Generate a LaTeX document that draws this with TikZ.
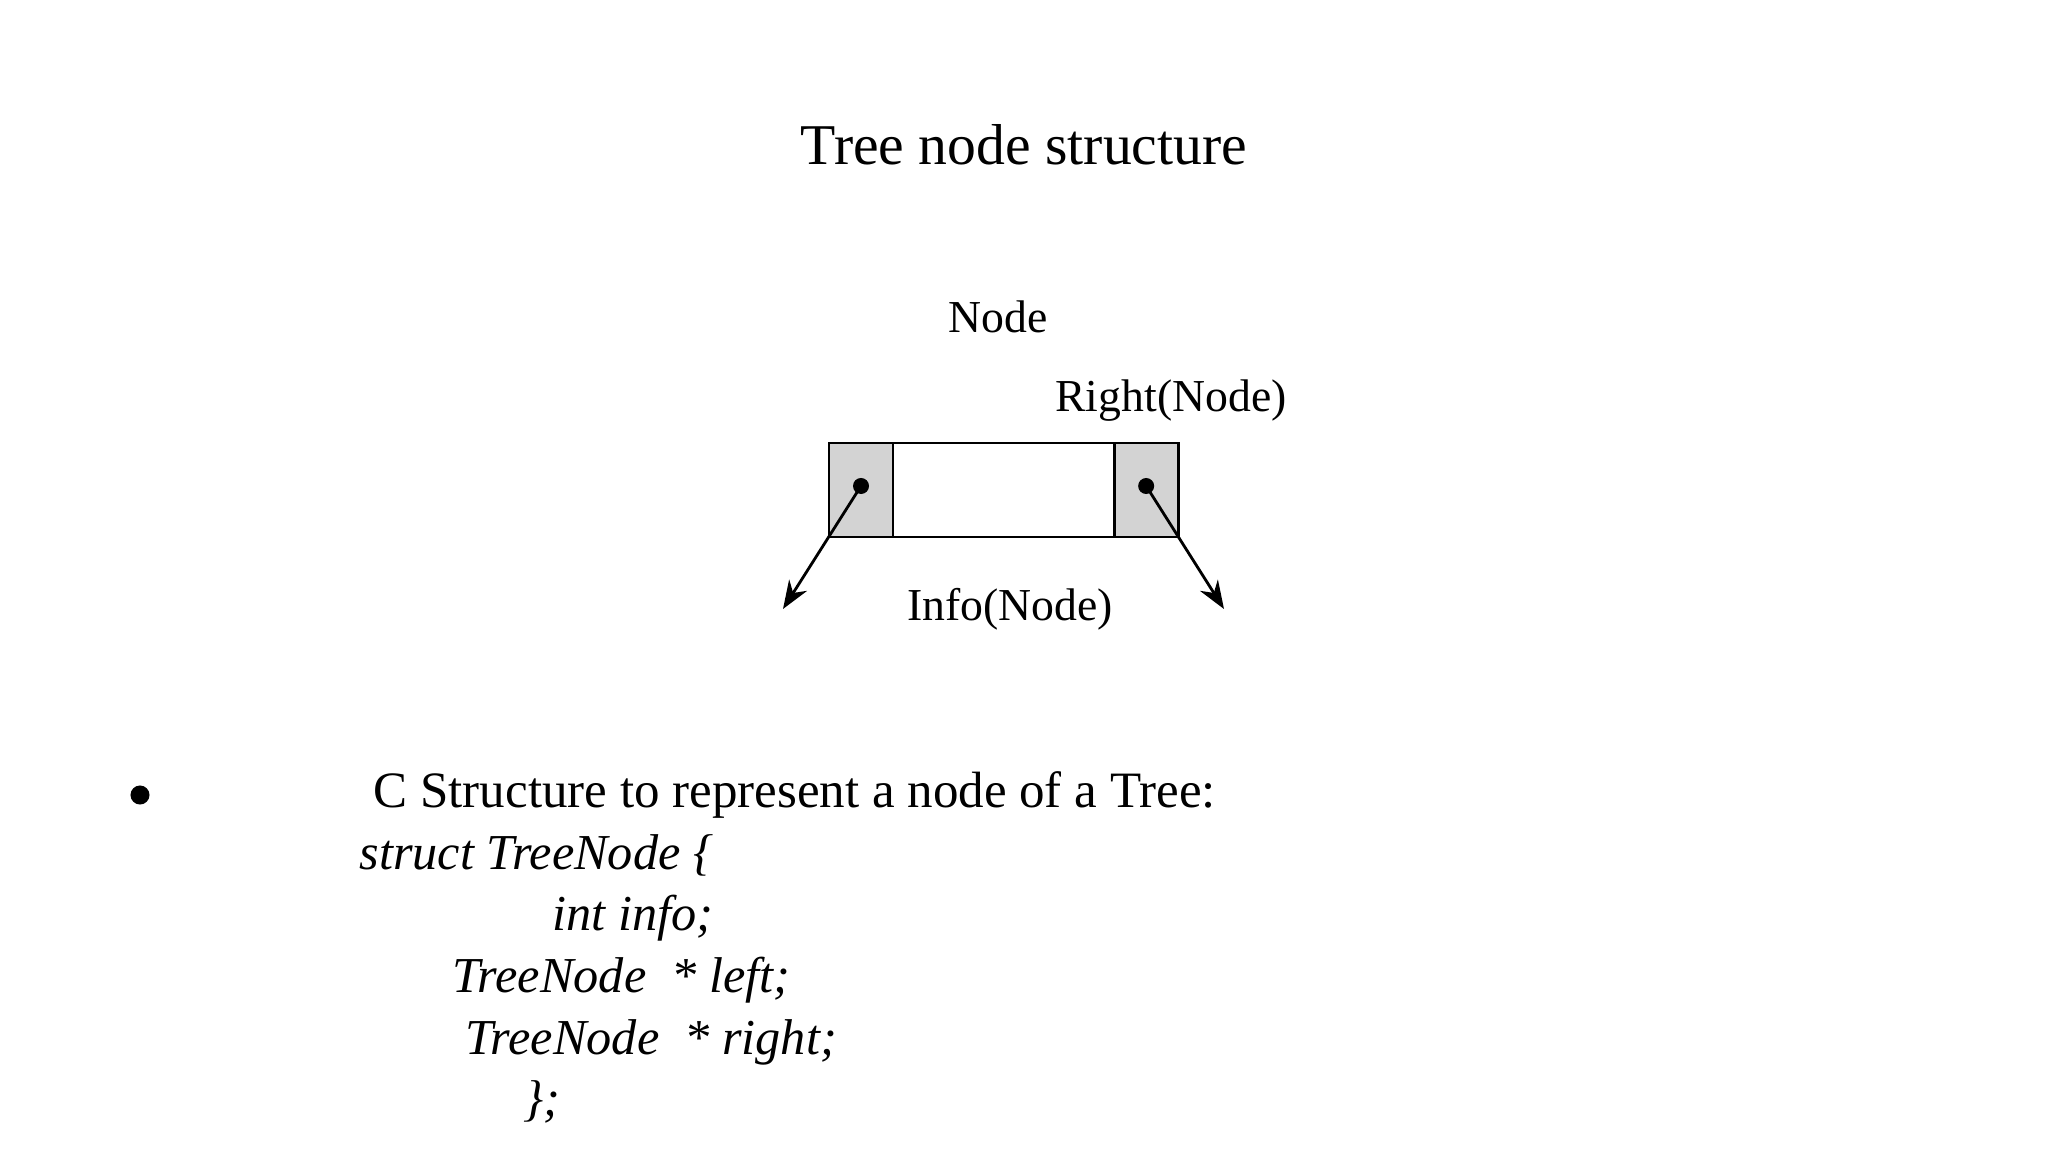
\documentclass[tikz,border=0pt]{standalone}
\usepackage{fontspec}
\setmainfont{Liberation Serif}
\usetikzlibrary{arrows.meta}
\definecolor{cellgray}{RGB}{211,211,211}
\tikzset{
  cell/.style={draw, line width=0.8pt, minimum height=0.94cm, inner sep=0pt, outer sep=0pt},
  ptrcell/.style={cell, fill=cellgray, minimum width=0.64cm},
  lbl/.style={font=\fontsize{13}{15}\selectfont, inner sep=0pt, anchor=base},
  codeline/.style={font=\fontsize{14.3}{17}\selectfont\itshape, inner sep=0pt, anchor=base west},
}
\begin{document}
\begin{tikzpicture}[x=0.01cm, y=-0.01cm, >={Stealth[length=8pt,width=6pt]}]
  \useasboundingbox (0,0) rectangle (2048,1152);
  \node[font=\fontsize{16.4}{19}\selectfont, inner sep=0pt, anchor=base] (title) at (1024,165) {Tree node structure};

  % the node: left pointer, info, right pointer
  \node[ptrcell] (lptr) at (861,490) {};
  \node[cell, minimum width=2.21cm, anchor=west] (info) at (lptr.east) {};
  \node[ptrcell, anchor=west] (rptr) at (info.east) {};

  \coordinate (ldot) at ([yshift=0.04cm]lptr.center);
  \coordinate (rdot) at ([yshift=0.04cm]rptr.center);
  \fill (ldot) circle (0.08cm);
  \fill (rdot) circle (0.08cm);

  \coordinate (ltip) at (783,609);
  \coordinate (rtip) at (1224,609);
  \draw[->, line width=0.8pt] (ldot) -- (ltip);
  \draw[->, line width=0.8pt] (rdot) -- (rtip);

  \node[lbl] (nodelbl) at (998,333) {Node};
  \node[lbl] (rightlbl) at (1171,412) {Right(Node)};
  \node[lbl] (infolbl) at (1010,620) {Info(Node)};

  % C code
  \node[circle, fill, minimum size=0.19cm, inner sep=0pt] (bullet) at (140,795) {};
  \node[font=\fontsize{14.5}{17}\selectfont, inner sep=0pt, anchor=base west] (cstruct) at (373,807) {C Structure to represent a node of a Tree:};
  \node[codeline] (l1) at (359,869) {struct TreeNode \{};
  \node[codeline] (l2) at (552,930) {int info;};
  \node[codeline] (l3) at (452,992) {TreeNode\ \ * left;};
  \node[codeline] (l4) at (465,1054) {TreeNode\ \ * right;};
  \node[codeline] (l5) at (523,1115) {\};};
\end{tikzpicture}
\end{document}
